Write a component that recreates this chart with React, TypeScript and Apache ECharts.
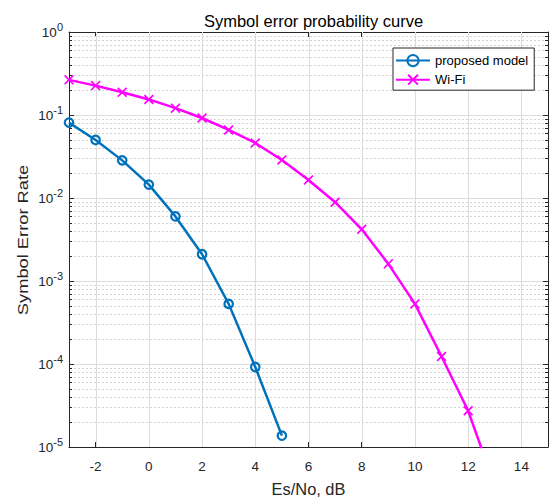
import React, { useEffect, useRef } from "react";
import * as echarts from "echarts";

const xValues = [-3, -2, -1, 0, 1, 2, 3, 4, 5, 6, 7, 8, 9, 10, 11, 12, 13];
const proposedModel = [0.081, 0.05, 0.0284, 0.0145, 0.006, 0.0021, 0.00053, 0.000092, 0.0000137];
const wifi = [0.265, 0.226, 0.188, 0.154, 0.121, 0.092, 0.066, 0.046, 0.0287, 0.0165, 0.0089, 0.0042, 0.00161, 0.00053, 0.000123, 0.0000273, 0.0000034];
const xTicks = [-2, 0, 2, 4, 6, 8, 10, 12, 14];
const xMin = -3;
const xMax = 15;
const yMin = 1e-5;
const yMax = 1;
const minorMultipliers = [2, 3, 4, 5, 6, 7, 8, 9];
const decades = [-5, -4, -3, -2, -1];

const FONT = "'Liberation Sans', Arial, Helvetica, sans-serif";
const AXIS_COLOR = "#262626";

export default function App() {
  const ref = useRef<HTMLDivElement>(null);
  useEffect(() => {
    document.body.style.margin = "0";
    if (!ref.current) return;
    const chart = echarts.init(ref.current, undefined, { renderer: "svg" });
    const minorVals: number[] = [];
    decades.forEach((d) => minorMultipliers.forEach((m) => minorVals.push(m * Math.pow(10, d))));

    const px = (v: number) => Math.round(v) + 0.5;

    const yLabelFormatter = (v: number) => "{b|10}{s|" + Math.round(Math.log10(v)) + "}";

    chart.setOption({
      animation: false,
      backgroundColor: "#ffffff",
      title: {
        text: "Symbol error probability curve",
        left: 308.5,
        top: 7,
        textAlign: "center",
        textStyle: { fontFamily: FONT, fontSize: 16.5, fontWeight: "normal", color: "#000" },
      },
      graphic: [
        {
          type: "text",
          x: 23,
          y: 240,
          rotation: Math.PI / 2,
          scaleX: 1.22,
          style: {
            text: "Symbol Error Rate",
            fontFamily: FONT,
            fontSize: 15,
            fill: AXIS_COLOR,
            align: "center",
            verticalAlign: "middle",
          },
        },
      ],
      legend: {
        orient: "vertical",
        left: 393,
        top: 48,
        padding: [6, 6, 4, 2],
        itemGap: 6,
        itemWidth: 34,
        itemHeight: 14,
        backgroundColor: "#ffffff",
        borderColor: AXIS_COLOR,
        borderWidth: 1,
        textStyle: { fontFamily: FONT, fontSize: 13, color: "#000" },
        data: ["proposed model", "Wi-Fi"],
      },
      grid: { left: 69, top: 32, right: 1, bottom: 54, containLabel: false },
      xAxis: [
        {
          type: "value",
          min: xMin,
          max: xMax,
          name: "Es/No, dB",
          nameLocation: "middle",
          nameGap: 34,
          nameTextStyle: { fontFamily: FONT, fontSize: 16.4, color: AXIS_COLOR },
          axisLine: { show: true, onZero: false, lineStyle: { color: AXIS_COLOR, width: 1 } },
          axisTick: { show: true, inside: true, length: 5, customValues: xTicks, lineStyle: { color: AXIS_COLOR } },
          axisLabel: { customValues: xTicks, margin: 12, fontFamily: FONT, fontSize: 13.5, color: AXIS_COLOR },
          splitLine: { show: false },
        },
        {
          type: "value",
          position: "top",
          min: xMin,
          max: xMax,
          axisLine: { show: true, onZero: false, lineStyle: { color: AXIS_COLOR, width: 1 } },
          axisTick: { show: true, inside: true, length: 5, customValues: xTicks, lineStyle: { color: AXIS_COLOR } },
          axisLabel: { show: false },
          splitLine: { show: false },
        },
      ],
      yAxis: [
        {
          type: "log",
          logBase: 10,
          min: yMin,
          max: yMax,
          splitNumber: 5,
          axisLine: { show: true, onZero: false, lineStyle: { color: AXIS_COLOR, width: 1 } },
          axisTick: { show: true, inside: true, length: 5, lineStyle: { color: AXIS_COLOR } },
          axisLabel: {
            margin: 6,
            formatter: yLabelFormatter,
            rich: {
              b: { fontFamily: FONT, fontSize: 13.5, lineHeight: 14, color: AXIS_COLOR, verticalAlign: "bottom", padding: [9, 0, 0, 0] },
              s: { fontFamily: FONT, fontSize: 11, lineHeight: 11, color: AXIS_COLOR, verticalAlign: "bottom", padding: [0, 0, 7, 0] },
            },
          },
          splitLine: { show: true, lineStyle: { color: "#dcdcdc", width: 1 } },
        },
        {
          type: "log",
          logBase: 10,
          position: "right",
          min: yMin,
          max: yMax,
          splitNumber: 5,
          axisLine: { show: true, onZero: false, lineStyle: { color: AXIS_COLOR, width: 1 } },
          axisTick: { show: true, inside: true, length: 5, lineStyle: { color: AXIS_COLOR } },
          axisLabel: { show: false },
          splitLine: { show: false },
        },
      ],
      series: [
        {
          type: "custom",
          name: "xgrid",
          z: 1,
          silent: true,
          clip: true,
          data: xTicks.map((x) => [x, 1e-3]),
          renderItem: (_params: any, api: any) => {
            const x = api.value(0);
            const p1 = api.coord([x, yMax]);
            const p2 = api.coord([x, yMin]);
            return {
              type: "line",
              shape: { x1: px(p1[0]), y1: p1[1], x2: px(p2[0]), y2: p2[1] },
              style: { stroke: "#dcdcdc", lineWidth: 1 },
            };
          },
        },
        {
          type: "custom",
          name: "yminor",
          z: 1,
          silent: true,
          clip: false,
          data: minorVals.map((v) => [xMin, v]),
          renderItem: (_params: any, api: any) => {
            const v = api.value(1);
            const p1 = api.coord([xMin, v]);
            const p2 = api.coord([xMax, v]);
            const y = px(p1[1]);
            return {
              type: "group",
              children: [
                {
                  type: "line",
                  shape: { x1: p1[0] + 1, y1: y, x2: p2[0] - 1, y2: y },
                  style: { stroke: "#d4d4d4", lineWidth: 1, lineDash: [2, 2] },
                },
                {
                  type: "line",
                  shape: { x1: p1[0], y1: y, x2: p1[0] + 3, y2: y },
                  style: { stroke: AXIS_COLOR, lineWidth: 1 },
                },
                {
                  type: "line",
                  shape: { x1: p2[0] - 3, y1: y, x2: p2[0], y2: y },
                  style: { stroke: AXIS_COLOR, lineWidth: 1 },
                },
              ],
            };
          },
        },
        {
          type: "line",
          name: "proposed model",
          z: 3,
          data: proposedModel.map((v, i) => [xValues[i], v]),
          symbol: "circle",
          symbolSize: 8.5,
          showAllSymbol: true,
          lineStyle: { color: "#0072BD", width: 2.5 },
          itemStyle: { color: "rgba(0,0,0,0)", borderColor: "#0072BD", borderWidth: 2.2 },
          clip: true,
        },
        {
          type: "line",
          name: "Wi-Fi",
          z: 3,
          data: wifi.map((v, i) => [xValues[i], v]),
          symbol: "path://M0,1.2L1.2,0L5,3.8L8.8,0L10,1.2L6.2,5L10,8.8L8.8,10L5,6.2L1.2,10L0,8.8L3.8,5Z",
          symbolSize: 10,
          showAllSymbol: true,
          lineStyle: { color: "#FF00FF", width: 2.5 },
          itemStyle: { color: "#FF00FF" },
          clip: true,
        },
      ],
    });
    return () => chart.dispose();
  }, []);
  return <div ref={ref} style={{ width: 549, height: 502 }} />;
}
